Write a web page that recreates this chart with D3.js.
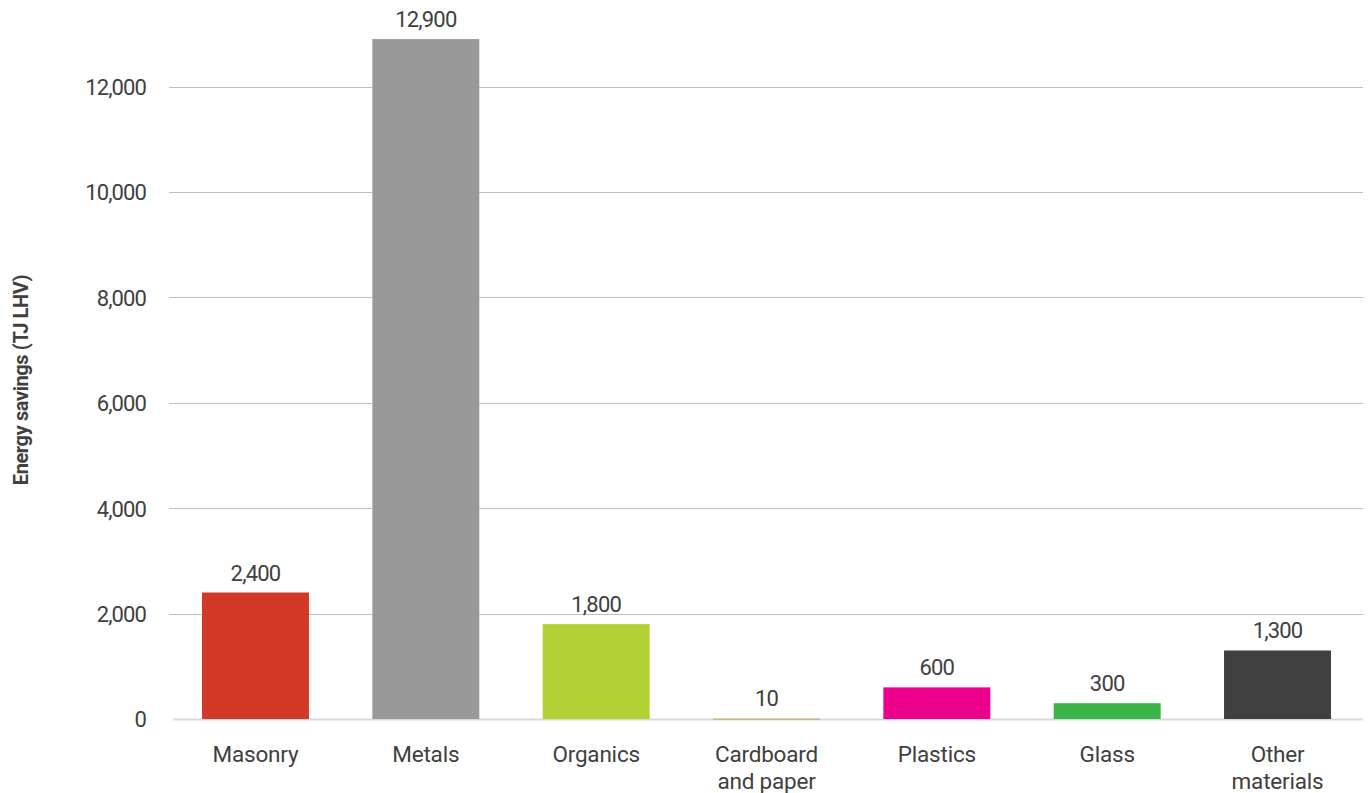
<!DOCTYPE html>
<html>
<head>
<meta charset="utf-8">
<script src="https://cdn.jsdelivr.net/npm/d3@7"></script>
<style>
  html, body { margin: 0; padding: 0; background: #ffffff; }
  svg { display: block; }
  text { font-family: Roboto, "Noto Sans", sans-serif; fill: #404040; }
</style>
</head>
<body>
<svg id="chart" width="1368" height="793"></svg>
<script>
// Energy savings by recovered material
const categories = [["Masonry"], ["Metals"], ["Organics"], ["Cardboard", "and paper"], ["Plastics"], ["Glass"], ["Other", "materials"]];
const savings = [2400, 12900, 1800, 10, 600, 300, 1300];
const barColors = ["#d23a27", "#999999", "#b1d235", "#c9b78d", "#ec008c", "#3bb54a", "#404041"];
const yTicks = [0, 2000, 4000, 6000, 8000, 10000, 12000];
const yTitle = "Energy savings (TJ LHV)";

const svg = d3.select("#chart");
const keys = categories.map(c => c.join(" "));

const x = d3.scaleBand()
  .domain(keys)
  .range([170.3, 1362.7])
  .paddingInner(0.372)
  .paddingOuter(0.186);

const y = d3.scaleLinear()
  .domain([0, 12000])
  .range([719, 86.5]);

const fmt = d3.format(",");

// horizontal gridlines (zero line drawn separately as the baseline)
svg.append("g")
  .selectAll("line")
  .data(yTicks.filter(t => t > 0))
  .join("line")
  .attr("x1", 169).attr("x2", 1363)
  .attr("y1", d => Math.round(y(d)) + 0.5)
  .attr("y2", d => Math.round(y(d)) + 0.5)
  .attr("stroke", "#bfbfbf")
  .attr("stroke-width", 1.2);

// baseline
svg.append("line")
  .attr("x1", 173).attr("x2", 1363)
  .attr("y1", y(0) + 0.5).attr("y2", y(0) + 0.5)
  .attr("stroke", "#d9d9d9")
  .attr("stroke-width", 2);

// y tick labels
const yAxis = d3.axisLeft(y).tickValues(yTicks).tickFormat(fmt).tickSize(0).tickPadding(0);
const gy = svg.append("g").attr("transform", "translate(146,0)").call(yAxis);
gy.select(".domain").remove();
gy.selectAll("text")
  .attr("font-size", 22)
  .attr("letter-spacing", "-0.9px")
  .attr("fill", "#404040")
  .attr("font-family", "Roboto, sans-serif")
  .attr("dy", "0.36em");

// bars
svg.append("g")
  .selectAll("rect")
  .data(savings)
  .join("rect")
  .attr("x", (d, i) => x(keys[i]))
  .attr("width", x.bandwidth())
  .attr("y", d => y(d))
  .attr("height", d => Math.max(y(0) - y(d), 1.5))
  .attr("fill", (d, i) => barColors[i]);

// value labels
svg.append("g")
  .selectAll("text")
  .data(savings)
  .join("text")
  .attr("x", (d, i) => x(keys[i]) + x.bandwidth() / 2)
  .attr("y", d => y(d) - 12)
  .attr("text-anchor", "middle")
  .attr("font-size", 22)
  .attr("letter-spacing", "-0.8px")
  .text(d => fmt(d));

// category labels
const xl = svg.append("g")
  .selectAll("text")
  .data(categories)
  .join("text")
  .attr("x", (d, i) => x(keys[i]) + x.bandwidth() / 2)
  .attr("y", 762)
  .attr("text-anchor", "middle")
  .attr("font-size", 22.5)
  .attr("letter-spacing", "-0.2px");
xl.selectAll("tspan")
  .data(d => d)
  .join("tspan")
  .attr("x", function () { return d3.select(this.parentNode).attr("x"); })
  .attr("dy", (d, i) => i === 0 ? 0 : 26.5)
  .text(d => d);

// y axis title
svg.append("text")
  .attr("transform", "translate(28,380) rotate(-90)")
  .attr("text-anchor", "middle")
  .attr("font-size", 20)
  .attr("font-weight", "bold")
  .attr("letter-spacing", "-0.4px")
  .text(yTitle);
</script>
</body>
</html>
